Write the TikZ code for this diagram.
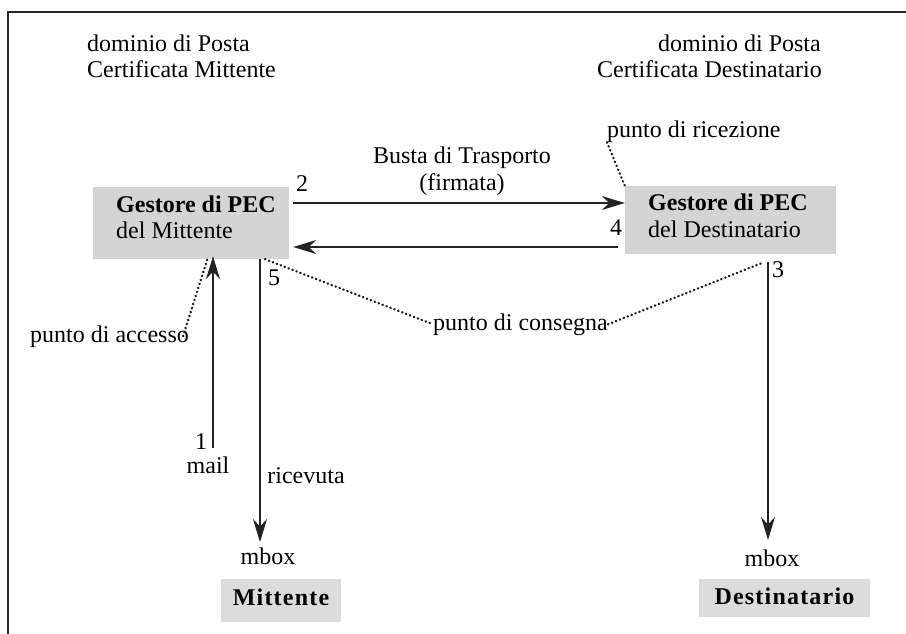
\documentclass[tikz,border=0pt]{standalone}
\usepackage{fontspec}
\setmainfont{Liberation Serif}
\newfontfamily\spacedfont[LetterSpace=5]{Liberation Serif}
\usetikzlibrary{arrows.meta,calc}
\definecolor{boxgray}{RGB}{212,212,212}
\definecolor{boxlight}{RGB}{220,220,220}
\definecolor{linegray}{RGB}{35,35,35}
\begin{document}
\begin{tikzpicture}[x=1pt,y=-1pt,
  every node/.style={font=\fontsize{24}{26}\selectfont, inner sep=0pt, text=black},
  lbl/.style={anchor=base},
  lblw/.style={anchor=base west},
  lble/.style={anchor=base east},
  boldtxt/.style={font=\bfseries\fontsize{24}{26}\selectfont},
  gbox/.style={draw=none, fill=boxgray, rectangle},
  endbox/.style={draw=none, fill=boxlight, rectangle, text height=16pt,
    font=\spacedfont\bfseries\fontsize{24}{26}\selectfont},
  arr/.style={draw=linegray, line width=1.3pt, -{Stealth[length=23pt,width=14pt]}},
  dots/.style={draw=black!90, line width=2.4pt, line cap=round, dash pattern=on 0.4pt off 3.8pt},
]
\useasboundingbox (0,0) rectangle (906,634);
% frame
\draw[line width=2pt, color=black!85] (8,634) -- (8,12.5) -- (906,12.5);

% boxes
\node[gbox, minimum width=196pt, minimum height=72pt] (gm) at (191,223) {};
\node[gbox, minimum width=211pt, minimum height=68pt] (gd) at (730.5,220) {};
\node[endbox, minimum width=120pt, minimum height=43pt, text depth=7pt] (mit) at (281,600.5) {Mittente};
\node[endbox, minimum width=171pt, minimum height=38pt, text depth=4pt] (dst) at (784.5,598) {Destinatario};

% box texts
\node[lblw, boldtxt] (gm1) at (116,212) {Gestore di PEC};
\node[lblw] (gm2) at (116,238) {del Mittente};
\node[lblw, boldtxt] (gd1) at (648,210) {Gestore di PEC};
\node[lblw] (gd2) at (648,237) {del Destinatario};

% domain labels
\node[lblw] (dom1a) at (87,52) {dominio di Posta};
\node[lblw] (dom1b) at (87,78) {Certificata Mittente};
\node[lble] (dom2a) at (821,52) {dominio di Posta};
\node[lble] (dom2b) at (822,78) {Certificata Destinatario};

% other labels
\node[lbl] (busta1) at (462,164) {Busta di Trasporto};
\node[lbl] (busta2) at (462,190) {(firmata)};
\node[lbl] (n2) at (302,191) {2};
\node[lbl] (n4) at (616,235) {4};
\node[lbl] (n5) at (274,285) {5};
\node[lbl] (n3) at (778,277) {3};
\node[lbl] (n1) at (201,449) {1};
\node[lbl] (mail) at (208,473) {mail};
\node[lbl] (ricevuta) at (306,483) {ricevuta};
\node[lblw] (accesso) at (30,342) {punto di accesso};
\node[lblw] (consegna) at (433,330) {punto di consegna};
\node[lblw] (ricezione) at (607,137) {punto di ricezione};
\node[lbl] (mboxL) at (268,564) {mbox};
\node[lbl] (mboxR) at (772,566) {mbox};

% arrows
\draw[arr] ($(gm.east |- 0,203)+(4,0)$) -- (gd.west |- 0,203);
\draw[arr] ($(gd.west |- 0,247)+(-7,0)$) -- ($(gm.east |- 0,247)+(4,0)$);
\coordinate (a1s) at (213,448);
\draw[arr] (a1s) -- ($(gm.south -| a1s)+(0,-3)$);
\coordinate (a5e) at (260,542);
\draw[arr] (gm.south -| a5e) -- (a5e);
\coordinate (a3e) at (768,540);
\draw[arr] ($(gd.south -| a3e)+(0,8)$) -- (a3e);

% dotted pointers
\draw[dots] ($(accesso.east)+(-6,0)$) -- ($(gm.south -| 208,0)+(0,-2)$);
\draw[dots] (gm.south -| 265,0) -- (consegna.west);
\draw[dots] (consegna.east) -- ($(gd.south -| 764,0)+(0,8)$);
\draw[dots] (ricezione.south west) -- (gd.north west);
\end{tikzpicture}
\end{document}
